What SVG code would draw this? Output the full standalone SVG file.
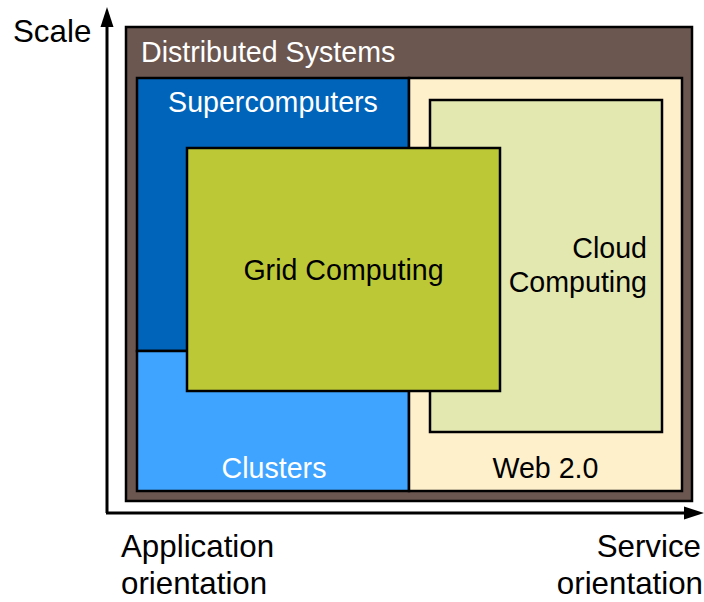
<svg xmlns="http://www.w3.org/2000/svg" width="704" height="602" viewBox="0 0 704 602">
<style>
  .box { stroke: #000; stroke-width: 2.5; }
  .axis { stroke: #000; stroke-width: 3; fill: none; }
  .lbl { font-family: "Liberation Sans", Arial, sans-serif; font-size: 28.6px; }
  .ax { font-family: "Liberation Sans", Arial, sans-serif; font-size: 31.3px; fill: #000; }
  .w { fill: #fff; }
  .k { fill: #000; }
</style>
<rect width="704" height="602" fill="#fff"/>
<g id="axes">
  <line class="axis" x1="107" y1="513" x2="107" y2="24"/>
  <path d="M100.5,27 L107,7 L113.5,27 Z" fill="#000"/>
  <line class="axis" x1="106" y1="513" x2="688" y2="513"/>
  <path d="M684,506.5 L704,513 L684,519.5 Z" fill="#000"/>
  <text class="ax" x="13" y="42">Scale</text>
  <text class="ax" x="121" y="557">Application</text>
  <text class="ax" x="121" y="594">orientation</text>
  <text class="ax" x="701" y="557" text-anchor="end">Service</text>
  <text class="ax" x="703" y="594" text-anchor="end">orientation</text>
</g>
<g id="distributed">
  <rect class="box" x="126" y="27" width="566" height="474" fill="#6B5750"/>
  <text class="lbl w" x="141" y="62">Distributed Systems</text>
</g>
<g id="supercomputers">
  <rect class="box" x="137" y="78" width="272" height="273" fill="#0064BA"/>
  <text class="lbl w" x="273" y="112" text-anchor="middle">Supercomputers</text>
</g>
<g id="clusters">
  <rect class="box" x="137" y="351" width="272" height="140" fill="#3FA4FF"/>
  <text class="lbl w" x="274" y="478" text-anchor="middle">Clusters</text>
</g>
<g id="web20">
  <rect class="box" x="409" y="78" width="273" height="413" fill="#FFF0CC"/>
  <text class="lbl k" x="545.5" y="478" text-anchor="middle">Web 2.0</text>
</g>
<g id="cloud">
  <rect class="box" x="430" y="100" width="232" height="332" fill="#E3E8B0"/>
  <text class="lbl k" x="647" y="258" text-anchor="end">Cloud</text>
  <text class="lbl k" x="647" y="292" text-anchor="end">Computing</text>
</g>
<g id="grid">
  <rect class="box" x="187" y="148" width="313" height="243" fill="#BDC837"/>
  <text class="lbl k" x="343.5" y="280" text-anchor="middle">Grid Computing</text>
</g>
</svg>
